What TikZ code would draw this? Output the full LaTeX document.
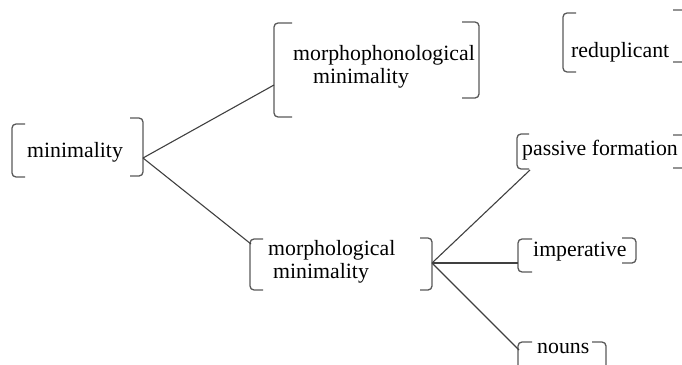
\documentclass[tikz,border=0pt]{standalone}
\usepackage{fontspec}
\setmainfont{Liberation Serif}

\tikzset{
  lbl/.style={anchor=base west, inner sep=0pt, font=\fontsize{21.8}{23}\selectfont},
  brk/.style={draw=black!65, line width=1.3pt, rounded corners=4pt},
  link/.style={draw=black!75, line width=1.1pt},
}

\begin{document}
\begin{tikzpicture}[x=1pt,y=-1pt]
  \useasboundingbox (0,0) rectangle (682,364);
  \clip (0,0) rectangle (682,364);

  % labels
  \node[lbl] (mini) at (27,157) {minimality};
  \node[lbl, align=left, anchor=north west] (mphon) at (293,45) {morphophonological\\\hspace*{20pt}minimality};
  \node[lbl] (redup) at (571,57) {reduplicant};
  \node[lbl, align=left, anchor=north west] (morph) at (268,240) {morphological\\\hspace*{5pt}minimality};
  \node[lbl] (pass) at (522,155) {passive formation};
  \node[lbl] (imp) at (533,256) {imperative};
  \node[lbl] (noun) at (537,353) {nouns};

  % brackets
  \draw[brk] (25,124) -- (12,124) -- (12,177) -- (25,177);
  \draw[brk] (130,118) -- (143,118) -- (143,176) -- (130,176);
  \draw[brk] (292,23) -- (274,23) -- (274,117) -- (292,117);
  \draw[brk] (462,22) -- (479,22) -- (479,98) -- (462,98);
  \draw[brk] (576,13) -- (563,13) -- (563,72) -- (576,72);
  \draw[brk] (673,10) -- (686,10) -- (686,62) -- (673,62);
  \draw[brk] (263,239) -- (250,239) -- (250,290) -- (263,290);
  \draw[brk] (420,238) -- (432,238) -- (432,290) -- (420,290);
  \draw[brk] (529,134) -- (517,134) -- (517,169) -- (529,169);
  \draw[brk] (673,135) -- (686,135) -- (686,168) -- (673,168);
  \draw[brk] (532,239) -- (518,239) -- (518,272) -- (532,272);
  \draw[brk] (622,238) -- (636,238) -- (636,263) -- (622,263);
  \draw[brk] (532,342) -- (518,342) -- (518,370);
  \draw[brk] (592,342) -- (606,342) -- (606,370);

  % bracket tips
  \coordinate (miniR) at (143,158);
  \coordinate (mphonL) at (274,85);
  \coordinate (morphL) at (251,244);
  \coordinate (morphR) at (432,263);
  \coordinate (passL) at (530,170);
  \coordinate (impL) at (518,263);
  \coordinate (nounL) at (519,350);

  \draw[link] (miniR) -- (mphonL);
  \draw[link] (miniR) -- (morphL);
  \draw[link] (morphR) -- (passL);
  \draw[link] (morphR) -- (impL);
  \draw[link] (morphR) -- (nounL);
\end{tikzpicture}
\end{document}
